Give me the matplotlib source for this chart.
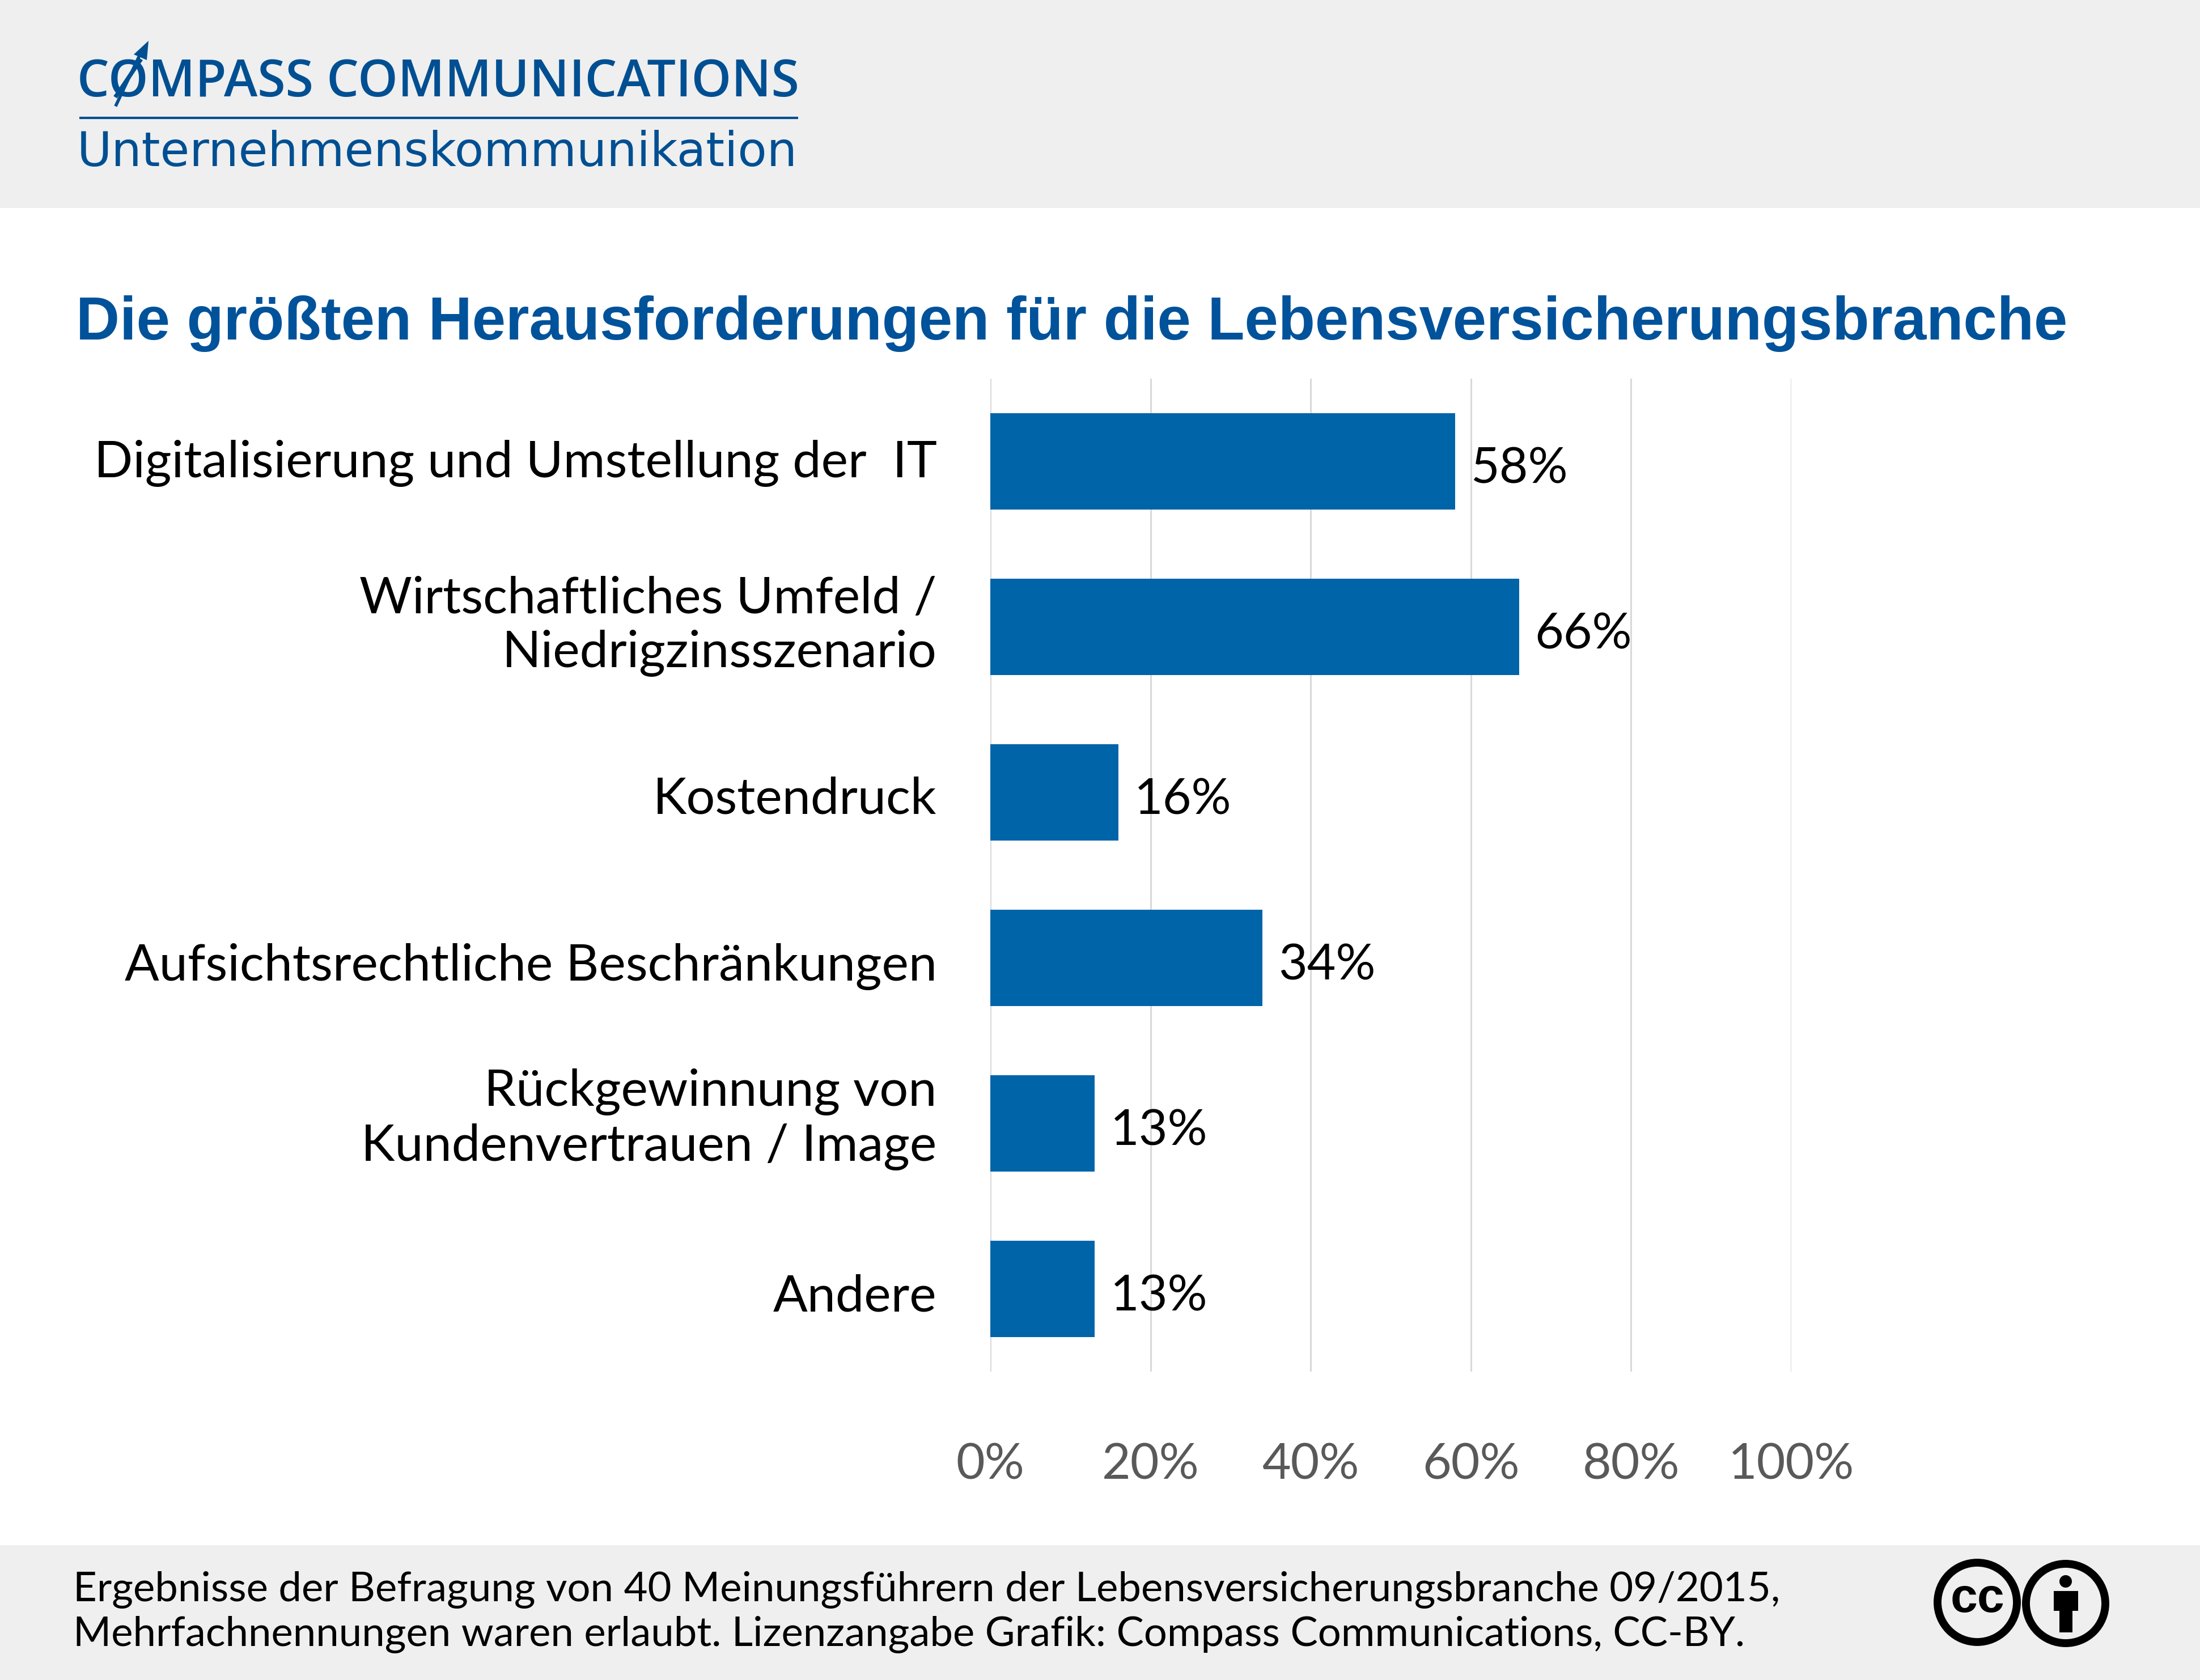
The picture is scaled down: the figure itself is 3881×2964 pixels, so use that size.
import matplotlib
matplotlib.use("Agg")
import matplotlib.pyplot as plt
from matplotlib.patches import Rectangle, Circle, Polygon
from matplotlib.transforms import Affine2D

W, H = 3881, 2964

categories = [
    "Digitalisierung und Umstellung der  IT",
    "Wirtschaftliches Umfeld /\nNiedrigzinsszenario",
    "Kostendruck",
    "Aufsichtsrechtliche Beschränkungen",
    "Rückgewinnung von\nKundenvertrauen / Image",
    "Andere",
]
values = [58, 66, 16, 34, 13, 13]
xticks = [0, 20, 40, 60, 80, 100]
xticklabels = ["0%", "20%", "40%", "60%", "80%", "100%"]

title = "Die größten Herausforderungen für die Lebensversicherungsbranche"
brand = "CØMPASS COMMUNICATIONS"
subbrand = "Unternehmenskommunikation"
footer = ["Ergebnisse der Befragung von 40 Meinungsführern der Lebensversicherungsbranche 09/2015,",
          "Mehrfachnennungen waren erlaubt. Lizenzangabe Grafik: Compass Communications, CC-BY."]

BAR = "#0064A9"
BG = "#EFEFEF"
LOGO = "#004F92"
TITLE = "#00529B"

fig = plt.figure(figsize=(W / 100, H / 100), dpi=100, facecolor="white")

# pixel-space overlay
bg = fig.add_axes([0, 0, 1, 1], zorder=0)
bg.set_xlim(0, W); bg.set_ylim(H, 0); bg.axis("off")
bg.add_patch(Rectangle((0, 0), W, 367, fc=BG, ec="none"))
bg.add_patch(Rectangle((0, 2726), W, H - 2726, fc=BG, ec="none"))
bg.plot([140, 1408], [208, 208], color=LOGO, lw=3, solid_capstyle="butt")

bg.text(136, 147, brand, family="Open Sans", weight="semibold", fontsize=64.5, color=LOGO,
        va="center", ha="left")
bg.text(136, 270, subbrand, family="DejaVu Sans", fontsize=60.5, color=LOGO,
        va="center", ha="left")
# compass needle through the O
bg.plot([205, 247], [185, 96], color=LOGO, lw=4)
bg.add_patch(Polygon([[262, 72], [236, 96], [259, 106]], fc=LOGO, ec="none"))

bg.text(134, 571, title, family="Liberation Sans", weight="bold", fontsize=76.8, color=TITLE,
        va="center", ha="left")

bg.text(129, 2805, footer[0], family="Lato", fontsize=52.2, color="black", va="center", ha="left")
bg.text(129, 2884, footer[1], family="Lato", fontsize=52.2, color="black", va="center", ha="left")

# licence badge
bg.add_patch(Circle((3488, 2827), 70, fc="none", ec="black", lw=10))
bg.add_patch(Circle((3644, 2829), 70, fc="none", ec="black", lw=10))
bg.text(3488, 2822, "cc", family="Liberation Sans", weight="bold", fontsize=62, color="black",
        va="center", ha="center")
bg.add_patch(Circle((3644, 2790), 11, fc="black", ec="none"))
bg.add_patch(Rectangle((3623, 2807), 43, 35, fc="black", ec="none"))
bg.add_patch(Rectangle((3633, 2842), 23, 38, fc="black", ec="none"))

# chart
x0, x1 = 1747, 3160
y0, y1 = 668, 2420
ax = fig.add_axes([x0 / W, 1 - y1 / H, (x1 - x0) / W, (y1 - y0) / H], zorder=2)
ax.patch.set_alpha(0)
positions = list(range(len(categories)))
ax.barh(positions, values, height=0.585, color=BAR, zorder=3)
ax.set_xlim(0, 100)
ax.set_ylim(5.5, -0.5)
ax.set_xticks(xticks, xticklabels, family="Lato", fontsize=63, color="#595959")
ax.set_yticks(positions, categories, family="Lato", fontsize=64.6, color="black", linespacing=1.2)
ax.tick_params(axis="x", length=0, pad=90)
ax.tick_params(axis="y", length=0, pad=68)
ax.grid(axis="x", color="#D9D9D9", lw=2.2, zorder=0)
ax.set_axisbelow(True)
for s in ax.spines.values():
    s.set_visible(False)
# small vertical nudges so each category label sits where it does in the source
for lab, dy in zip(ax.get_yticklabels(), [5, 16, -5, -7, 22, -7]):
    lab.set_transform(lab.get_transform() + Affine2D().translate(0, dy))
for p, v in zip(positions, values):
    ax.annotate(f"{v}%", (v, p), xytext=(28, -14), textcoords="offset pixels",
                family="Lato", fontsize=63, color="black", va="center", ha="left")

fig.savefig("out.png", dpi=100)
